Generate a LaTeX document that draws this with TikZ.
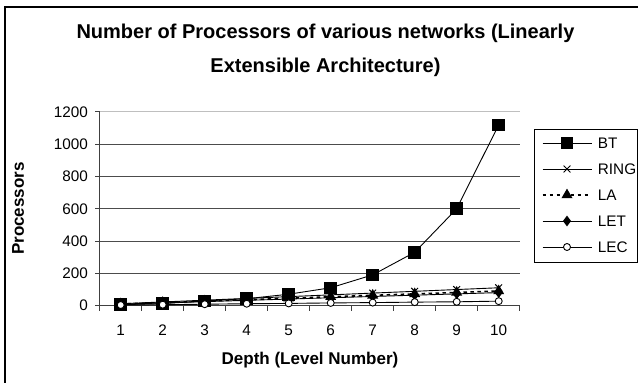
\documentclass[tikz,border=0pt]{standalone}
\usepackage{fontspec}
\setmainfont{Liberation Sans}
\usetikzlibrary{plotmarks}

\begin{document}
\begin{tikzpicture}[x=1pt,y=-1pt,
  ticklab/.style={font=\fontsize{15.3}{18}\selectfont, inner sep=0pt},
  axtitle/.style={font=\fontsize{17}{20}\selectfont\bfseries, inner sep=0pt},
  grid/.style={line width=1pt, black!70},
  axisline/.style={line width=1pt, black!75},
  series/.style={line width=0.9pt, black},
  btmark/.style={mark=square*, mark size=5.8pt, mark options={solid, fill=black}},
  ringmark/.style={mark=x, mark size=4.8pt, mark options={solid, line width=1pt}},
  lamark/.style={mark=triangle*, mark size=4.8pt, mark options={solid, fill=black}},
  letmark/.style={mark=diamond*, mark size=4.6pt, mark options={solid, fill=black}},
  lecmark/.style={mark=*, mark size=3.5pt, mark options={solid, fill=white, line width=0.9pt}},
  ladash/.style={line width=1.6pt, dash pattern=on 3.5pt off 3.5pt},
  legbox/.style={draw, line width=1pt},
  legtext/.style={font=\fontsize{15.3}{18}\selectfont, inner sep=0pt, anchor=west}]

\useasboundingbox (0,0) rectangle (638,383);
\fill[white] (0,0) rectangle (638,383);

% chart frame (left and top edges)
\draw[line width=1.5pt] (5,383) -- (5,7) -- (638,7);

% title
\node[font=\fontsize{20}{34}\selectfont\bfseries, align=center, inner sep=0pt]
  (title) at (325.5,50) {Number of Processors of various networks (Linearly\\Extensible Architecture)};

% axis titles
\node[axtitle, rotate=90] (ytitle) at (18,208.5) {Processors};
\node[axtitle] (xtitle) at (310,360) {Depth (Level Number)};

% plot area: category n at x = n-1, value v upward
\begin{scope}[shift={(120.7pt,-305.5pt)}, x=42pt, y=0.16125pt]
  % gridlines
  \foreach \v in {200,400,...,1000}
    \draw[grid] (-0.5,\v) -- (9.5,\v);
  \draw[line width=1pt, black!25] (-0.5,1200) -- (9.5,1200);
  % value axis with ticks and labels
  \draw[axisline] (-0.5,0) -- (-0.5,1200);
  \foreach \v in {0,200,...,1200} {
    \draw[axisline] (-0.5,\v) -- ++(-5pt,0);
    \node[ticklab, anchor=east] (ylab\v) at ([xshift=-11.7pt]-0.5,\v) {\v};
  }
  % category axis with ticks and labels
  \draw[axisline] (-0.5,0) -- (9.5,0);
  \foreach \k in {0,...,10}
    \draw[axisline] (\k-0.5,0) -- ++(0,-5pt);
  \foreach \n in {1,...,10}
    \node[ticklab] (xlab\n) at ([yshift=-24.5pt]\n-1,0) {\n};

  % series
  \draw[series] plot[btmark] coordinates {(0,5) (1,12) (2,28) (3,42) (4,70) (5,110) (6,190) (7,330) (8,600) (9,1120)};
  \draw[series] plot[ringmark] coordinates {(0,11) (1,22) (2,33) (3,44) (4,55) (5,66) (6,77) (7,88) (8,99) (9,110)};
  \draw[ladash] plot[lamark] coordinates {(0,9) (1,18) (2,27) (3,36) (4,45) (5,54) (6,63) (7,72) (8,81) (9,90)};
  \draw[series] plot[letmark] coordinates {(0,8) (1,16) (2,24) (3,32) (4,40) (5,48) (6,56) (7,64) (8,72) (9,80)};
  \draw[series] plot[lecmark] coordinates {(0,3) (1,5) (2,8) (3,11) (4,13) (5,16) (6,18) (7,21) (8,23) (9,27)};
\end{scope}

% legend
\draw[legbox] (534,129) rectangle (637,262);
\foreach \name/\yy/\sty/\ln in {BT/143/btmark/series, RING/169/ringmark/series, LA/195/lamark/ladash, LET/221/letmark/series, LEC/247/lecmark/series} {
  \draw[\ln] (542.7,\yy) -- (591.7,\yy);
  \draw[\ln] plot[\sty] coordinates {(567,\yy)};
  \node[legtext] (leg\name) at (597.7,\yy) {\name};
}
\end{tikzpicture}
\end{document}
